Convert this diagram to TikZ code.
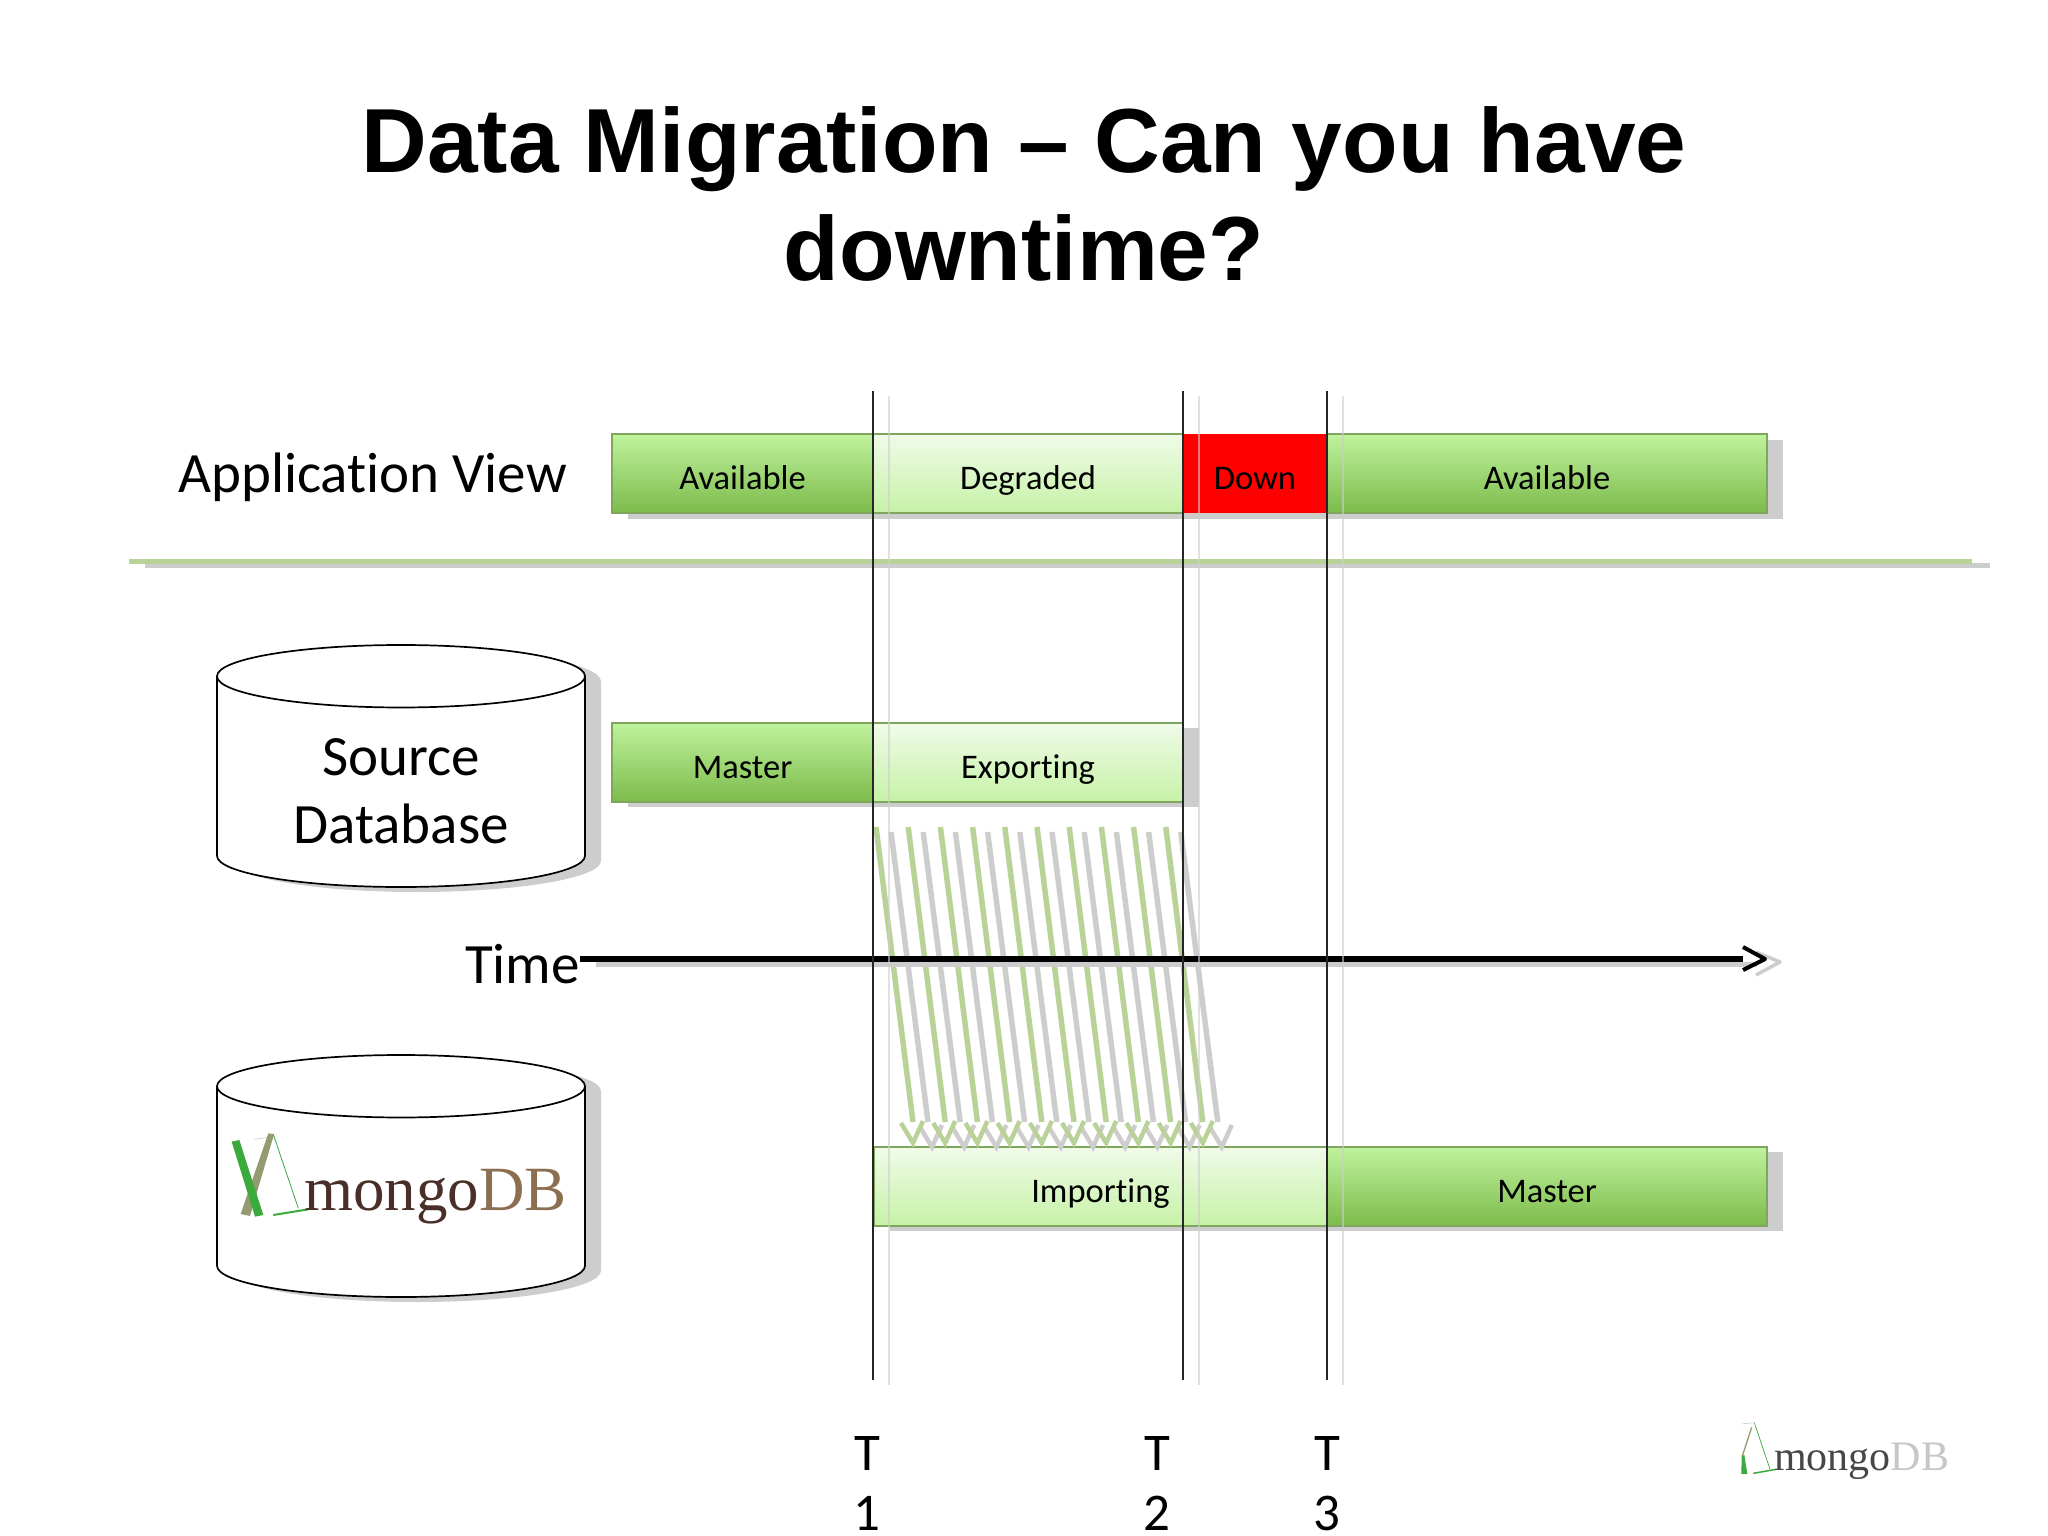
\documentclass[tikz,border=0pt]{standalone}
\usepackage{fontspec}
\setmainfont[Ligatures={NoCommon}]{Carlito}
\newfontfamily\titlefont{Liberation Sans}
\newfontfamily\logofont{Liberation Serif}
\usetikzlibrary{positioning,shapes.geometric,backgrounds,calc}
\definecolor{barline}{HTML}{7FA65C}
\definecolor{fulltop}{HTML}{BFF29C}
\definecolor{fullfoot}{HTML}{7DBB4C}
\definecolor{paletop}{HTML}{F0FBE9}
\definecolor{palefoot}{HTML}{C6F2A6}
\definecolor{feedgreen}{HTML}{B9D298}
\definecolor{shadowgray}{HTML}{CDCDCD}
\definecolor{logobrown}{HTML}{4A2F28}
\definecolor{logotan}{HTML}{8C6F50}
\definecolor{logogreen}{HTML}{3AAA3C}
\definecolor{logoolive}{HTML}{979A70}
\newcommand{\dbspace}{\phantom{Source}\\\phantom{Database}}
\tikzset{
    statebar/.style={draw=barline, line width=1.5pt, outer sep=0pt, inner sep=0pt,
        minimum width=#1, minimum height=79pt, text height=37pt, text depth=6pt,
        font=\fontsize{34.5}{40}\selectfont},
    fullbar/.style={statebar=#1, top color=fulltop, bottom color=fullfoot},
    palebar/.style={statebar=#1, top color=paletop, bottom color=palefoot},
    downbar/.style={statebar=#1, draw=none, fill=red},
    dbcyl/.style={cylinder, shape border rotate=90, aspect=.29, draw, line width=1.7pt, fill=white,
        minimum width=368pt, minimum height=242pt, outer sep=0pt, inner sep=0pt, align=center,
        anchor=shape center, font=\fontsize{57}{68}\selectfont},
    cylshade/.style={dbcyl, draw=none, fill=shadowgray},
    barshade/.style={fill=shadowgray},
    bigtext/.style={font=\fontsize{57}{60}\selectfont, inner sep=0pt},
    marktext/.style={font=\fontsize{53}{60}\selectfont, inner sep=0pt, align=center, text depth=0pt, anchor=south},
    feed/.style={line width=5.5pt, color=#1},
    marker/.style={line width=1.2pt, color=black!85},
    markershade/.style={line width=1.5pt, color=shadowgray, opacity=.6}
}
\begin{document}
\begin{tikzpicture}[x=1pt,y=-1pt]
    \useasboundingbox (0,0) rectangle (2048,1536);
    \node[font=\titlefont\bfseries\fontsize{91}{108}\selectfont, align=center, inner sep=0pt] (title) at (1024,194)
        {Data Migration – Can you have\\downtime?};
    \node[bigtext, anchor=west] (appview) at (178,477) {Application View};

    % divider
    \coordinate (divleft) at (129,561);
    \coordinate (divright) at (1972,561);
    \draw[line width=5pt, shadowgray] ([shift={(16,4)}]divleft) -- ([shift={(18,4)}]divright);
    \draw[line width=5pt, feedgreen] (divleft) -- (divright);

    % application row
    \node[fullbar=261pt, anchor=north west] (avail) at (612,434) {Available};
    \node[palebar=310pt, right=0pt of avail] (degraded) {Degraded};
    \node[downbar=144pt, right=0pt of degraded] (down) {Down};
    \node[fullbar=440pt, right=0pt of down] (availb) {Available};

    % source row
    \node[fullbar=261pt, anchor=north west] (srcmaster) at (612,723) {Master};
    \node[palebar=310pt, right=0pt of srcmaster] (exporting) {Exporting};

    % target row
    \node[palebar=453pt, anchor=north west] (importing) at (874,1147) {Importing};
    \node[fullbar=440pt, right=0pt of importing] (newmaster) {Master};

    \begin{scope}[on background layer]
        \fill[barshade] ([shift={(16,6)}]avail.north west) rectangle ([shift={(16,6)}]availb.south east);
        \fill[barshade] ([shift={(16,5)}]srcmaster.north west) rectangle ([shift={(16,5)}]exporting.south east);
        \fill[barshade] ([shift={(16,5)}]importing.north west) rectangle ([shift={(16,5)}]newmaster.south east);
        \node[cylshade] at (417,771) {\dbspace};
        \node[cylshade] at (417,1181) {\dbspace};
    \end{scope}

    % databases
    \node[dbcyl] (srcdb) at (401,766) {\rule{0pt}{54.5pt}Source\\Database};
    \node[dbcyl] (mongodb) at (401,1176) {\dbspace};

    % logo in the database
    \begin{scope}[shift={(200,1040)},x=.3333pt,y=-.3333pt]
        \draw[line width=.5pt, black!25] (163,298) -- (220,290);
        \fill[logoolive] (205,280) -- (222,283) -- (150,528) -- (122,522) -- cycle;
        \fill[logogreen] (95,305) -- (118,300) -- (190,525) -- (165,530) -- cycle;
        \draw[line width=.8pt, logogreen] (220,283) -- (295,505);
        \draw[line width=2pt, logogreen] (220,525) -- (325,508);
    \end{scope}
    \node[font=\logofont\fontsize{63}{63}\selectfont, anchor=base west, inner sep=0pt, text=logobrown] (dblogo) at (304,1210)
        {mongo\textcolor{logotan}{DB}};

    % logo in the corner
    \begin{scope}[shift={(1700,1400)},x=.3333pt,y=-.3333pt]
        \draw[line width=.5pt, black!25] (125,72) -- (163,68);
        \draw[line width=1.3pt, logoolive] (155,82) -- (127,168);
        \fill[logogreen] (125,168) -- (133,165) -- (142,222) -- (124,222) -- cycle;
        \draw[line width=.7pt, logogreen] (163,68) -- (210,208);
        \draw[line width=1.5pt, logogreen] (160,220) -- (228,208);
    \end{scope}
    \node[font=\logofont\fontsize{42}{42}\selectfont, anchor=base west, inner sep=0pt, text=black!72] (cornerlogo) at (1774,1470)
        {mongo\textcolor{black!22}{DB}};

    % data copied across
    \foreach \i in {0,...,9} {
        \coordinate (gs\i) at (876+32.2*\i,827);
        \coordinate (gm\i) at (913+32.2*\i,1122);
        \coordinate (ge\i) at (913+32.2*\i,1143);
        \draw[feed=feedgreen] (gs\i) -- (gm\i);
        \draw[feed=shadowgray] ([shift={(15,5)}]gs\i) -- ([shift={(15,0)}]gm\i);
    }
    \foreach \i in {0,...,9} {
        \draw[feed=shadowgray, line width=4.5pt] ([shift={(19,4)}]ge\i) ++(-12,-20) -- ++(12,20) -- ++(10,-22);
    }
    \foreach \i in {0,...,9} {
        \draw[feed=feedgreen, line width=4.5pt] (ge\i) ++(-12,-20) -- ++(12,20) -- ++(10,-22);
    }

    % time axis
    \node[bigtext, anchor=east] (time) at (580,964) {Time};
    \coordinate (timeend) at (1765,959);
    \draw[line width=5pt, shadowgray] ([shift={(16,5)}]time.east |- timeend) -- ([shift={(-8,5)}]timeend);
    \draw[line width=3.5pt, shadowgray, line join=round] ([shift={(-9,-7)}]timeend) -- ([shift={(15,3)}]timeend) -- ([shift={(-9,16)}]timeend);
    \draw[line width=5.5pt] (time.east |- timeend) -- ([xshift=-22pt]timeend);
    \draw[line width=4pt, line join=round] ([shift={(-22,-12)}]timeend) -- (timeend) -- ([shift={(-22,11)}]timeend);

    % time markers
    \foreach \x/\n in {873/1,1183/2,1327/3} {
        \coordinate (m\n top) at (\x,391);
        \coordinate (m\n foot) at (\x,1380);
        \draw[markershade] ([shift={(16,5)}]m\n top) -- ([shift={(16,5)}]m\n foot);
        \draw[marker] (m\n top) -- (m\n foot);
    }
    \node[marktext] (t1) at (867,1531) {T\\1};
    \node[marktext] (t2) at (1157,1531) {T\\2};
    \node[marktext] (t3) at (1327,1531) {T\\3};
\end{tikzpicture}
\end{document}
